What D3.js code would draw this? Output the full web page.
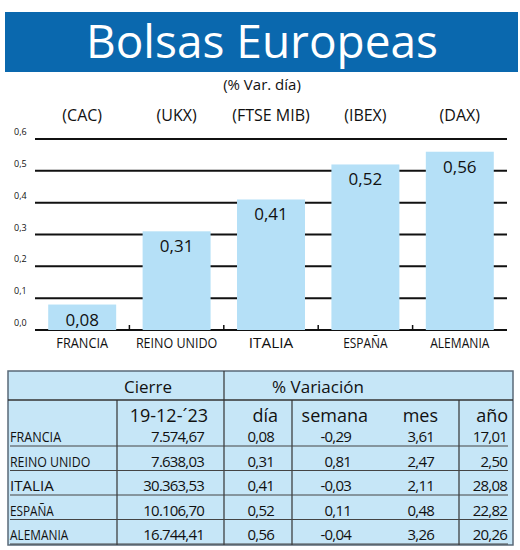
<!DOCTYPE html>
<html><head><meta charset="utf-8">
<script src="https://cdn.jsdelivr.net/npm/d3@7"></script>
<style>body{margin:0;background:#fff}svg{display:block}text{font-family:"Open Sans",sans-serif;fill:#111}</style>
</head><body><svg id="c" width="520" height="550"></svg>
<script>
const countries=["FRANCIA","REINO UNIDO","ITALIA","ESPAÑA","ALEMANIA"];
const codes=["(CAC)","(UKX)","(FTSE MIB)","(IBEX)","(DAX)"];
const dia=[0.08,0.31,0.41,0.52,0.56];
const yTicks=[0,0.1,0.2,0.3,0.4,0.5,0.6];
const cierre=["7.574,67","7.638,03","30.363,53","10.106,70","16.744,41"];
const semana=["-0,29","0,81","-0,03","0,11","-0,04"];
const mes=["3,61","2,47","2,11","0,48","3,26"];
const anio=["17,01","2,50","28,08","22,82","20,26"];
const fmt=v=>v.toFixed(2).replace(".",",");
const svg=d3.select("#c");
svg.append("rect").attr("x",5).attr("y",12).attr("width",513).attr("height",60).attr("fill","#0a68ae");
svg.append("text").attr("x",262).attr("y",58).attr("text-anchor","middle").style("fill","#fff").attr("font-size",46).attr("font-weight",500).attr("font-family","Lato, sans-serif").text("Bolsas Europeas");
svg.append("text").attr("x",262).attr("y",90).attr("text-anchor","middle").attr("font-size",15).text("(% Var. día)");
const x=d3.scaleBand().domain(countries).range([35,507]).paddingInner(0.28).paddingOuter(0.14);
const y=d3.scaleLinear().domain([0,0.6]).range([330,139]);
svg.selectAll(".code").data(codes).enter().append("text").attr("x",(d,i)=>x(countries[i])+x.bandwidth()/2).attr("y",121).attr("text-anchor","middle").attr("font-size",16).text(d=>d);
svg.selectAll(".grid").data(yTicks).enter().append("line").attr("x1",35).attr("x2",507).attr("y1",d=>y(d)).attr("y2",d=>y(d)).attr("stroke","#111").attr("stroke-width",2);
svg.selectAll(".yl").data(yTicks).enter().append("text").attr("x",14).attr("y",d=>y(d)-4).attr("font-size",9).text(d=>d.toFixed(1).replace(".",","));
svg.selectAll(".bar").data(dia).enter().append("rect").attr("x",(d,i)=>x(countries[i])).attr("width",x.bandwidth()).attr("y",d=>y(d)).attr("height",d=>y(0)-y(d)).attr("fill","#b5e0f7");
svg.selectAll(".tk").data(countries.slice(1)).enter().append("line").attr("x1",d=>x(d)-x.step()*0.14).attr("x2",d=>x(d)-x.step()*0.14).attr("y1",y(0)).attr("y2",y(0)-5).attr("stroke","#111").attr("stroke-width",1.5);
svg.selectAll(".vl").data(dia).enter().append("text").attr("x",(d,i)=>x(countries[i])+x.bandwidth()/2).attr("y",d=>y(d)+21).attr("text-anchor","middle").attr("font-size",17).text(fmt);
svg.selectAll(".cl").data(countries).enter().append("text").attr("x",d=>x(d)+x.bandwidth()/2).attr("y",348).attr("text-anchor","middle").attr("font-size",14).attr("textLength",d=>d.length*7.4).attr("lengthAdjust","spacingAndGlyphs").text(d=>d);
const T=svg.append("g");
T.append("rect").attr("x",8).attr("y",371).attr("width",505).attr("height",174).attr("fill","#c6e6f7").attr("stroke","#5a6a78").attr("stroke-width",1.5);
T.append("line").attr("x1",8).attr("x2",513).attr("y1",400).attr("y2",400).attr("stroke","#333").attr("stroke-width",1.5);
[117,292,459].forEach(v=>T.append("line").attr("x1",v).attr("x2",v).attr("y1",400).attr("y2",545).attr("stroke","#333").attr("stroke-width",1.2));
T.append("line").attr("x1",224).attr("x2",224).attr("y1",371).attr("y2",545).attr("stroke","#333").attr("stroke-width",1.2);
T.append("text").attr("x",148).attr("y",393).attr("text-anchor","middle").attr("font-size",17).attr("font-weight",500).text("Cierre");
T.append("text").attr("x",318).attr("y",393).attr("text-anchor","middle").attr("font-size",17).attr("font-weight",500).text("% Variación");
const hdr=[["19-12-´23",208],["día",278],["semana",368],["mes",438],["año",508]];
hdr.forEach(h=>T.append("text").attr("x",h[1]).attr("y",422).attr("text-anchor","end").attr("font-size",18).text(h[0]));
const rowY=i=>442+i*24.5;
countries.forEach((c,i)=>{
  const yy=rowY(i);
  T.append("line").attr("x1",10).attr("x2",508).attr("y1",yy+4).attr("y2",yy+4).attr("stroke","#444").attr("stroke-width",1);
  T.append("text").attr("x",10).attr("y",yy).attr("font-size",15).attr("textLength",c.length*7.3).attr("lengthAdjust","spacingAndGlyphs").text(c);
  const cells=[[cierre[i],204],[fmt(dia[i]),274],[semana[i],351],[mes[i],434],[anio[i],507]];
  cells.forEach(k=>T.append("text").attr("x",k[1]).attr("y",yy).attr("text-anchor","end").attr("font-size",15).attr("letter-spacing",-0.8).text(k[0]));
});
</script></body></html>
